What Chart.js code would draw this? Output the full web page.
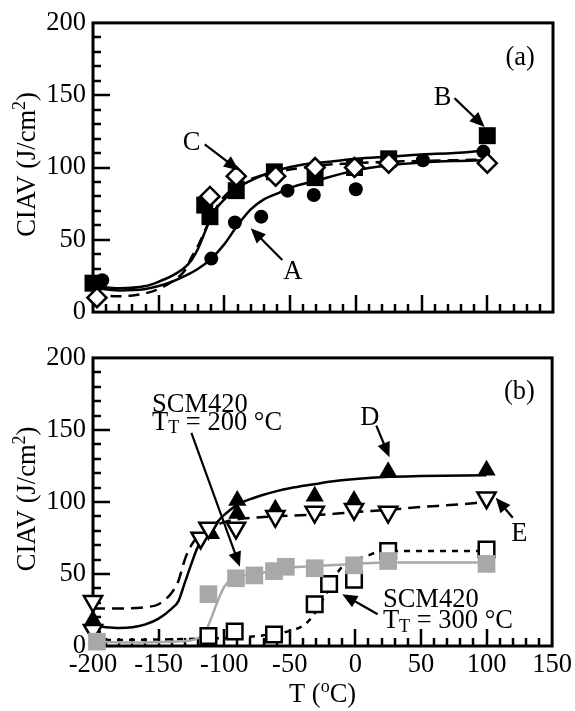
<!DOCTYPE html>
<html>
<head>
<meta charset="utf-8">
<script src="https://cdn.jsdelivr.net/npm/chart.js@4.4.1/dist/chart.umd.min.js"></script>
<style>
  body { margin: 0; background: #fff; }
  #wrap { position: relative; width: 575px; height: 711px; }
  canvas { position: absolute; left: 0; }
</style>
</head>
<body>
<div id="wrap">
  <canvas id="chart-a" width="575" height="335" style="top:0"></canvas>
  <canvas id="chart-b" width="575" height="376" style="top:335px"></canvas>
</div>
<script>
/* CIAV vs test temperature, two panels */

const SERIF = '"Liberation Serif", "Times New Roman", serif';
const FS = 26.5, FS_SMALL = 18;
Chart.defaults.font.family = SERIF;
Chart.defaults.font.size = FS;
Chart.defaults.color = '#000';

const X_TICKS = { min: -200, max: 150, step: 50 };
const Y_TICKS = { min: 0, max: 200, step: 50 };

/* ---- panel (a) markers ---- */
const aCircleT = [-193, -110, -92, -72, -52, -32, 0, 51, 97];
const aCircleV = [22, 37, 62, 66, 84, 81, 85, 105, 111];
const aSquareT = [-200, -115, -111, -91, -62, -31, -1, 25, 100];
const aSquareV = [20, 74, 66, 84, 97, 93, 100, 106, 122];
const aDiamondT = [-197, -111, -91, -61, -31, -1, 25, 100];
const aDiamondV = [10, 80, 94, 94, 100, 100, 103, 103];

/* ---- panel (a) fitted curves ---- */
const aCurveBT = [-200, -180, -160, -150, -140, -130, -125, -120, -115, -110, -105, -100, -90, -80, -70, -60, -40, -20, 0, 25, 50, 75, 100];
const aCurveBV = [18, 16.5, 18, 21, 25, 31, 36, 44, 55, 66, 73, 78, 86, 91, 95, 98, 102, 104, 106, 107.5, 109, 110, 112];
const aCurveAT = [-200, -180, -160, -150, -140, -130, -120, -110, -100, -90, -80, -70, -60, -50, -30, 0, 25, 50, 75, 100];
const aCurveAV = [17, 15, 16, 18, 21, 25, 30, 37, 47, 60, 71, 78, 82, 86, 91, 98, 101.5, 103.5, 104.5, 105];
const aCurveCT = [-200, -190, -180, -170, -160, -150, -140, -130, -125, -120, -115, -110, -105, -100, -90, -80, -70, -60, -40, -20, 0, 25, 50, 75, 100];
const aCurveCV = [14, 11.5, 11, 11.5, 13, 16, 21, 29, 38, 46, 56, 66, 74, 80, 88, 92, 95, 97, 100, 102, 103, 104, 104.5, 105, 105.5];

/* ---- panel (b) markers ---- */
const bTriT = [-200, -110, -90, -90, -61, -31, -1, 25, 100];
const bTriV = [18, 78, 101, 92, 95, 104, 101, 121, 122];
const bInvT = [-200, -200, -118, -112, -91, -61, -31, -1, 25, 100];
const bInvV = [31, 11, 75, 82, 82, 90, 93, 95, 93, 103];
const bGrayT = [-197, -112, -91, -77, -62, -53, -31, -1, 25, 100];
const bGrayV = [3, 36, 47, 49, 52, 55, 54, 56, 59, 57];
const bOpenT = [-112, -92, -62, -31, -20, -1, 25, 100];
const bOpenV = [7, 10, 8, 29, 43, 46, 66, 67];

/* ---- panel (b) fitted curves ---- */
const bCurveDT = [-200, -190, -180, -170, -160, -150, -140, -135, -130, -125, -120, -115, -110, -100, -90, -80, -70, -60, -50, -30, -20, 0, 25, 50, 100];
const bCurveDV = [14, 13, 12.5, 13, 15, 19, 26, 31, 44, 57, 69, 75, 81, 91, 98, 102, 105, 107.5, 109.5, 112.5, 114, 116, 117.5, 118, 118.5];
const bCurveET = [-200, -180, -160, -150, -140, -135, -130, -125, -120, -115, -110, -100, -90, -70, -50, -20, 0, 25, 50, 75, 100];
const bCurveEV = [26, 26, 27, 29, 37, 45, 60, 70, 76, 79, 82, 86, 88, 89.5, 90.5, 91.5, 93, 94.5, 96.5, 98, 100];
const bCurveGT = [-200, -170, -140, -125, -120, -115, -110, -105, -100, -95, -90, -80, -70, -60, -50, -30, 0, 25, 50, 100];
const bCurveGV = [3, 2.5, 3, 4, 5.5, 8.5, 19, 31, 41, 46, 48, 49.5, 51, 53, 54.5, 55.5, 57, 58, 58, 58];
const bCurveOT = [-200, -150, -120, -100, -80, -60, -50, -40, -35, -30, -25, -20, -15, -10, -5, 0, 10, 16, 25, 50, 75, 100];
const bCurveOV = [4, 4.5, 5, 5.5, 6.5, 8.5, 10.5, 14, 18, 24, 32, 40, 49, 55, 58.5, 60, 63, 65, 66, 66, 66, 66];

const GRAY = '#a8a8a8';
const xy = (t, v) => t.map((x, i) => ({ x, y: v[i] }));

function curve(t, v, color, dash, order) {
  return { type: 'line', data: xy(t, v), borderColor: color, borderWidth: 2.5, borderDash: dash || [],
    pointRadius: 0, tension: 0.4, cubicInterpolationMode: 'monotone', order, clip: false };
}
function marks(t, v, style, radius, fill, border, order, rotation) {
  return { type: 'scatter', data: xy(t, v), pointStyle: style, pointRadius: radius, pointRotation: rotation || 0,
    backgroundColor: fill, borderColor: border, borderWidth: border === fill ? 0 : 2.5, order, clip: false };
}

/* inward ticks + closed frame, drawn under the data */
const frame = {
  id: 'frame',
  beforeDatasetsDraw(chart) {
    const { ctx, chartArea: a, scales: { x, y } } = chart;
    ctx.save();
    ctx.strokeStyle = '#000';
    ctx.lineWidth = 2.5;
    ctx.beginPath();
    for (let v = Y_TICKS.min + 10; v < Y_TICKS.max; v += 10) {
      const py = Math.round(y.getPixelForValue(v));
      ctx.moveTo(a.left, py); ctx.lineTo(a.left + (v % 50 === 0 ? 17 : 8), py);
    }
    for (let t = X_TICKS.min + 10; t < X_TICKS.max; t += 10) {
      const px = Math.round(x.getPixelForValue(t));
      ctx.moveTo(px, a.bottom); ctx.lineTo(px, a.bottom - (t % 50 === 0 ? 17 : 8));
    }
    ctx.stroke();
    ctx.lineWidth = 3;
    ctx.strokeRect(a.left, a.top, a.right - a.left, a.bottom - a.top);
    ctx.restore();
  }
};

/* rich text: parts = [text, shift] with shift 0 normal, 1 subscript, -1 superscript */
function richWidth(ctx, parts) {
  let w = 0;
  parts.forEach(([s, k]) => { ctx.font = `${k ? FS_SMALL : FS}px ${SERIF}`; w += ctx.measureText(s).width; });
  return w;
}
function drawRich(ctx, parts, x, y, align) {
  let cx = align === 'center' ? x - richWidth(ctx, parts) / 2 : x;
  ctx.textAlign = 'left';
  ctx.textBaseline = 'middle';
  parts.forEach(([s, k]) => {
    ctx.font = `${k ? FS_SMALL : FS}px ${SERIF}`;
    ctx.fillText(s, cx, y + (k === 1 ? 6 : k === -1 ? -8 : 0));
    cx += ctx.measureText(s).width;
  });
}
function arrow(ctx, x1, y1, x2, y2) {
  const ang = Math.atan2(y2 - y1, x2 - x1), L = 15, W = 6.5;
  ctx.beginPath();
  ctx.moveTo(x1, y1);
  ctx.lineTo(x2 - Math.cos(ang) * L * 0.8, y2 - Math.sin(ang) * L * 0.8);
  ctx.stroke();
  ctx.beginPath();
  ctx.moveTo(x2, y2);
  ctx.lineTo(x2 - Math.cos(ang) * L - Math.sin(ang) * W, y2 - Math.sin(ang) * L + Math.cos(ang) * W);
  ctx.lineTo(x2 - Math.cos(ang) * L + Math.sin(ang) * W, y2 - Math.sin(ang) * L - Math.cos(ang) * W);
  ctx.closePath();
  ctx.fill();
}

const notes = {
  id: 'notes',
  afterDatasetsDraw(chart, args, opts) {
    const { ctx, chartArea: a, scales: { x, y } } = chart;
    ctx.save();
    ctx.fillStyle = '#000';
    ctx.strokeStyle = '#000';
    ctx.lineWidth = 2.2;
    (opts.texts || []).forEach(n =>
      drawRich(ctx, n.parts, x.getPixelForValue(n.x), y.getPixelForValue(n.y), n.align));
    (opts.arrows || []).forEach(([t1, v1, t2, v2]) =>
      arrow(ctx, x.getPixelForValue(t1), y.getPixelForValue(v1), x.getPixelForValue(t2), y.getPixelForValue(v2)));
    // axis titles
    ctx.save();
    ctx.translate(28, (a.top + a.bottom) / 2 - 3);
    ctx.rotate(-Math.PI / 2);
    drawRich(ctx, [['CIAV (J/cm', 0], ['2', -1], [')', 0]], 0, 0, 'center');
    ctx.restore();
    if (opts.xTitle) drawRich(ctx, [['T (', 0], ['o', -1], ['C)', 0]], (a.left + a.right) / 2, chart.height - 16, 'center');
    ctx.restore();
  }
};

function axes(showX, xHeight) {
  return {
    x: { type: 'linear', min: X_TICKS.min, max: X_TICKS.max,
      ticks: { stepSize: X_TICKS.step, display: showX, padding: 3, maxRotation: 0 },
      grid: { display: false, drawTicks: false }, border: { display: false },
      afterFit: s => { s.height = xHeight; } },
    y: { type: 'linear', min: Y_TICKS.min, max: Y_TICKS.max,
      ticks: { stepSize: Y_TICKS.step, padding: 7 },
      grid: { display: false, drawTicks: false }, border: { display: false },
      afterFit: s => { s.width = 93; } },
  };
}

function makeChart(id, datasets, padTop, xHeight, showX, texts, arrows) {
  return new Chart(document.getElementById(id), {
    type: 'scatter',
    data: { datasets },
    options: {
      responsive: false, animation: false,
      layout: { padding: { top: padTop, right: 22, left: 0, bottom: 0 } },
      plugins: { legend: { display: false }, tooltip: { enabled: false },
        notes: { texts, arrows, xTitle: showX } },
      scales: axes(showX, xHeight),
    },
    plugins: [frame, notes],
  });
}

/* ---------------- PANEL (a) ---------------- */
makeChart('chart-a', [
  marks(aDiamondT, aDiamondV, 'rectRot', 9.5, '#fff', '#000', 1),
  marks(aCircleT, aCircleV, 'circle', 7, '#000', '#000', 2),
  marks(aSquareT, aSquareV, 'rect', 12, '#000', '#000', 3),
  curve(aCurveCT, aCurveCV, '#000', [11, 7], 4),
  curve(aCurveAT, aCurveAV, '#000', null, 5),
  curve(aCurveBT, aCurveBV, '#000', null, 6),
], 20, 17, false, [
  { parts: [['(a)', 0]], x: 125, y: 176, align: 'center' },
  { parts: [['C', 0]], x: -125, y: 117, align: 'center' },
  { parts: [['A', 0]], x: -48, y: 28, align: 'center' },
  { parts: [['B', 0]], x: 66, y: 148, align: 'center' },
], [
  [-115, 116, -89, 98],
  [-56, 36, -80, 58],
  [75, 148, 98, 128],
]);

/* ---------------- PANEL (b) ---------------- */
makeChart('chart-b', [
  marks(bGrayT, bGrayV, 'rect', 12.5, GRAY, GRAY, 1),
  marks(bOpenT, bOpenV, 'rect', 11, '#fff', '#000', 2),
  marks(bInvT, bInvV, 'triangle', 10.5, '#fff', '#000', 3, 180),
  marks(bTriT, bTriV, 'triangle', 10.5, '#000', '#000', 4),
  curve(bCurveGT, bCurveGV, GRAY, null, 5),
  curve(bCurveOT, bCurveOV, '#000', [6, 6], 6),
  curve(bCurveET, bCurveEV, '#000', [12, 7], 7),
  curve(bCurveDT, bCurveDV, '#000', null, 8),
], 9, 65, true, [
  { parts: [['(b)', 0]], x: 125, y: 176, align: 'center' },
  { parts: [['SCM420', 0]], x: -155, y: 167, align: 'left' },
  { parts: [['T', 0], ['T', 1], [' = 200 °C', 0]], x: -155, y: 155, align: 'left' },
  { parts: [['D', 0]], x: 11, y: 158, align: 'center' },
  { parts: [['E', 0]], x: 125, y: 78, align: 'center' },
  { parts: [['SCM420', 0]], x: 21, y: 32, align: 'left' },
  { parts: [['T', 0], ['T', 1], [' = 300 °C', 0]], x: 21, y: 17, align: 'left' },
], [
  [-125, 148, -88, 55],
  [16, 153, 26, 131],
  [120, 89, 107, 103],
  [17, 22, -10, 36],
]);
</script>
</body>
</html>
